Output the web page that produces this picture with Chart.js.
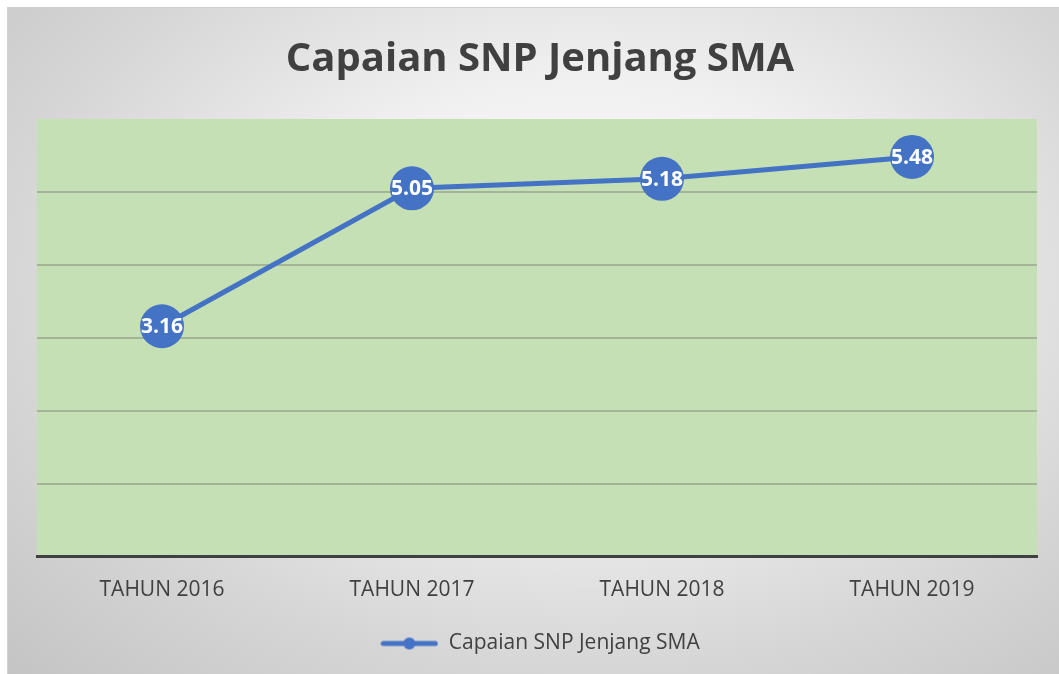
<!DOCTYPE html>
<html>
<head>
<meta charset="utf-8">
<script src="https://cdn.jsdelivr.net/npm/chart.js@4.4.1/dist/chart.umd.min.js"></script>
<style>
    html, body { margin: 0; padding: 0; background: #ffffff; }
    #wrap {
        position: absolute; left: 7px; top: 7px;
        width: 1052px; height: 667px;
        border-left: 1px solid #d0d0d0; border-top: 1px solid #d0d0d0;
        box-sizing: border-box;
        background: radial-gradient(ellipse at 55% 40%, #ffffff 0%, #f0f0f0 35%, #d6d6d6 70%, #c4c4c4 100%);
    }
</style>
</head>
<body>
<div id="wrap"><canvas id="snpChart" width="1051" height="666"></canvas></div>
<script>
// Data
const categories = ['TAHUN 2016', 'TAHUN 2017', 'TAHUN 2018', 'TAHUN 2019'];
const snpValues = [3.16, 5.05, 5.18, 5.48];
const seriesLabel = 'Capaian SNP Jenjang SMA';

const BLUE = '#4472C4';
const TEXT = '#404040';
const FONT = "'Open Sans', sans-serif";

// legend symbol: line with a dot
const legendIcon = document.createElement('canvas');
legendIcon.width = 58; legendIcon.height = 14;
(function () {
    const c = legendIcon.getContext('2d');
    c.strokeStyle = BLUE; c.lineWidth = 5; c.lineCap = 'round';
    c.beginPath(); c.moveTo(3, 7); c.lineTo(55, 7); c.stroke();
    c.fillStyle = BLUE;
    c.beginPath(); c.arc(29, 7, 6, 0, Math.PI * 2); c.fill();
})();

// green plot area
const plotBg = {
    id: 'plotBg',
    beforeDraw(chart) {
        const { ctx, chartArea: a } = chart;
        ctx.save();
        ctx.fillStyle = '#C5E0B4';
        ctx.fillRect(a.left, a.top, a.right - a.left, a.bottom - a.top);
        ctx.restore();
    }
};

// value labels inside markers
const valueLabels = {
    id: 'valueLabels',
    afterDatasetsDraw(chart) {
        const ctx = chart.ctx;
        const meta = chart.getDatasetMeta(0);
        ctx.save();
        ctx.font = "bold 21px " + FONT;
        ctx.fillStyle = '#ffffff';
        ctx.textAlign = 'center';
        ctx.textBaseline = 'middle';
        meta.data.forEach((pt, i) => {
            ctx.fillText(snpValues[i].toFixed(2), pt.x, pt.y + 1);
        });
        ctx.restore();
    }
};

new Chart(document.getElementById('snpChart'), {
    type: 'line',
    data: {
        labels: categories,
        datasets: [{
            label: seriesLabel,
            data: snpValues,
            borderColor: BLUE,
            backgroundColor: BLUE,
            borderWidth: 5,
            tension: 0,
            pointRadius: 22,
            pointHoverRadius: 22,
            pointBackgroundColor: BLUE,
            pointBorderWidth: 0
        }]
    },
    options: {
        responsive: false,
        animation: false,
        layout: { padding: { left: 29, right: 16, top: 0, bottom: 10 } },
        scales: {
            x: {
                offset: true,
                grid: { display: false },
                border: { display: true, color: TEXT, width: 3 },
                ticks: { color: TEXT, font: { family: FONT, size: 21 }, padding: 13 },
                afterFit: scale => { scale.height += 1; }
            },
            y: {
                min: 0, max: 6,
                ticks: { display: false, stepSize: 1 },
                border: { display: false },
                grid: {
                    color: c => c.tick && c.tick.value === 6 ? 'rgba(0,0,0,0)' : '#a3b596',
                    lineWidth: 2,
                    drawTicks: false
                }
            }
        },
        plugins: {
            title: {
                display: true,
                text: seriesLabel,
                color: TEXT,
                font: { family: FONT, size: 40, weight: 'bold' },
                padding: { top: 28, bottom: 35 }
            },
            legend: {
                position: 'bottom',
                labels: {
                    color: TEXT,
                    font: { family: FONT, size: 21 },
                    usePointStyle: true,
                    pointStyleWidth: 58,
                    padding: 16,
                    generateLabels: chart => [{
                        text: seriesLabel,
                        fontColor: TEXT,
                        pointStyle: legendIcon,
                        datasetIndex: 0,
                        lineWidth: 0,
                        hidden: false
                    }]
                }
            },
            tooltip: { enabled: false }
        }
    },
    plugins: [plotBg, valueLabels]
});
</script>
</body>
</html>
